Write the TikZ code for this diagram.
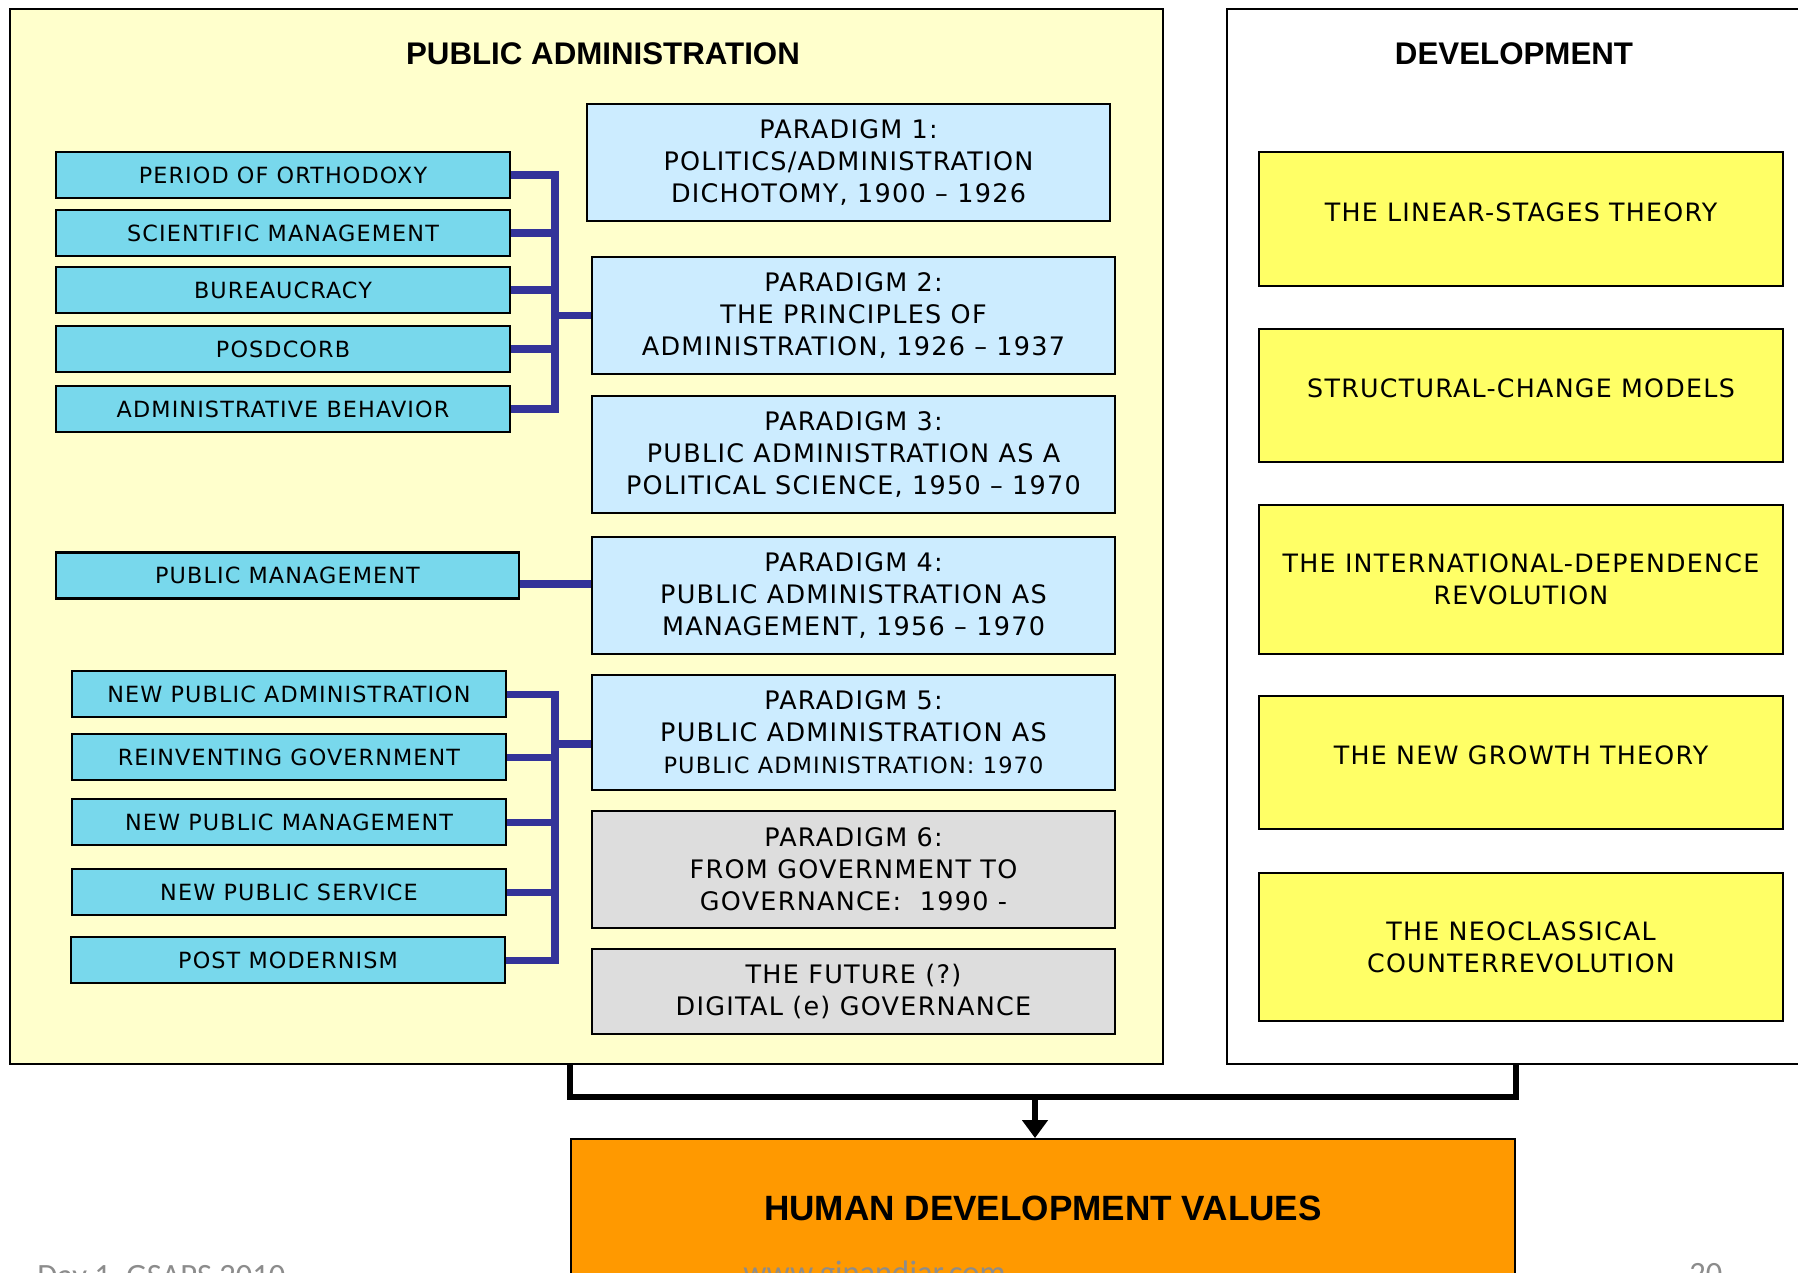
\documentclass[tikz,border=0pt]{standalone}
\usepackage{fontspec}
\usepackage{tikz}
\usetikzlibrary{arrows.meta}
\setmainfont{DejaVu Sans}
\newfontfamily\boxfont[LetterSpace=5]{DejaVu Sans}
\newfontfamily\headfont{Liberation Sans}
\newfontfamily\footfont{Carlito}
\definecolor{paback}{RGB}{255,255,204}
\definecolor{cyanbox}{RGB}{120,216,236}
\definecolor{paleblue}{RGB}{204,236,255}
\definecolor{greybox}{RGB}{221,221,221}
\definecolor{yellowbox}{RGB}{255,255,102}
\definecolor{orangebox}{RGB}{255,153,0}
\definecolor{linkblue}{RGB}{51,51,153}
\definecolor{footgrey}{RGB}{140,140,140}

\begin{document}
\begin{tikzpicture}[x=0.02cm, y=-0.02cm,
    every node/.style={inner sep=0pt},
    panel/.style={draw, line width=1.1pt, minimum height=21.1cm},
    sidebox/.style={draw, line width=1.5pt, fill=cyanbox, minimum height=0.92cm,
        font=\boxfont\fontsize{12.7}{15}\selectfont},
    paradigm/.style={draw, line width=1.5pt, fill=paleblue, align=center,
        minimum width=10.46cm, minimum height=2.34cm,
        font=\boxfont\fontsize{14.5}{18.2}\selectfont},
    later/.style={paradigm, fill=greybox},
    theory/.style={draw, line width=1.5pt, fill=yellowbox, align=center,
        minimum width=10.48cm, font=\boxfont\fontsize{14.4}{18.2}\selectfont},
    oneline/.style={text depth=0.28cm},
    heading/.style={font=\headfont\bfseries\fontsize{17.8}{20}\selectfont},
    bluelink/.style={draw=linkblue, line width=4pt},
    blacklink/.style={draw=black, line width=3.6pt},
    footer/.style={font=\footfont\fontsize{18.5}{20}\selectfont, text=footgrey, anchor=base west}]

    \useasboundingbox (0,0) rectangle (1798,1272);

    % Panels
    \node[panel, fill=paback, minimum width=23.06cm] (pa) at (586.5,536.5) {};
    \node[panel, fill=white, minimum width=11.66cm] (dev) at (1518.5,536.5) {};
    \node[heading] (patitle) at (603,54) {PUBLIC ADMINISTRATION};
    \node[heading] (devtitle) at (1514,54) {DEVELOPMENT};

    % Left column
    \node[sidebox, minimum width=9.08cm] (orth) at (283,175) {PERIOD OF ORTHODOXY};
    \node[sidebox, minimum width=9.08cm] (sci) at (283,233) {SCIENTIFIC MANAGEMENT};
    \node[sidebox, minimum width=9.08cm] (bur) at (283,290) {BUREAUCRACY};
    \node[sidebox, minimum width=9.08cm] (posd) at (283,349) {POSDCORB};
    \node[sidebox, minimum width=9.08cm] (behav) at (283,409) {ADMINISTRATIVE BEHAVIOR};
    \node[sidebox, minimum width=9.26cm] (pubman) at (287.5,575.5) {PUBLIC MANAGEMENT};
    \node[sidebox, minimum width=8.68cm] (npa) at (289,694) {NEW PUBLIC ADMINISTRATION};
    \node[sidebox, minimum width=8.68cm] (reinv) at (289,757) {REINVENTING GOVERNMENT};
    \node[sidebox, minimum width=8.68cm] (npm) at (289,822) {NEW PUBLIC MANAGEMENT};
    \node[sidebox, minimum width=8.68cm] (nps) at (289,892) {NEW PUBLIC SERVICE};
    \node[sidebox, minimum width=8.68cm] (postm) at (288,960) {POST MODERNISM};

    % Paradigms
    \node[paradigm] (p1) at (848.5,162.5) {PARADIGM 1:\\POLITICS/ADMINISTRATION\\DICHOTOMY, 1900 – 1926};
    \node[paradigm] (p2) at (853.5,315.5) {PARADIGM 2:\\THE PRINCIPLES OF\\ADMINISTRATION, 1926 – 1937};
    \node[paradigm] (p3) at (853.5,454.5) {PARADIGM 3:\\PUBLIC ADMINISTRATION AS A\\POLITICAL SCIENCE, 1950 – 1970};
    \node[paradigm] (p4) at (853.5,595.5) {PARADIGM 4:\\PUBLIC ADMINISTRATION AS\\MANAGEMENT, 1956 – 1970};
    \node[paradigm, minimum height=2.3cm] (p5) at (853.5,732.5) {PARADIGM 5:\\PUBLIC ADMINISTRATION AS\\{\fontsize{12.8}{18.2}\selectfont PUBLIC ADMINISTRATION: 1970}};
    \node[later] (p6) at (853.5,869.5) {PARADIGM 6:\\FROM GOVERNMENT TO\\GOVERNANCE:~~1990 -};
    \node[later, minimum height=1.7cm] (future) at (853.5,991.5) {THE FUTURE (?)\\DIGITAL (e) GOVERNANCE};

    % Development theories
    \node[theory, oneline, minimum height=2.68cm] (d1) at (1521,219) {THE LINEAR-STAGES THEORY};
    \node[theory, oneline, minimum height=2.66cm] (d2) at (1521,395.5) {STRUCTURAL-CHANGE MODELS};
    \node[theory, minimum height=2.98cm] (d3) at (1521,579.5) {THE INTERNATIONAL-DEPENDENCE\\REVOLUTION};
    \node[theory, oneline, minimum height=2.66cm] (d4) at (1521,762.5) {THE NEW GROWTH THEORY};
    \node[theory, minimum height=2.96cm] (d5) at (1521,947) {THE NEOCLASSICAL\\COUNTERREVOLUTION};

    % Result
    \node[draw, line width=1.1pt, fill=orangebox, minimum width=18.88cm, minimum height=2.76cm,
        font=\headfont\bfseries\fontsize{20}{22}\selectfont] (hdv) at (1043,1208) {HUMAN DEVELOPMENT VALUES};

    % Brackets
    \coordinate (barA) at (555,0);
    \foreach \n in {orth,sci,bur,posd,behav}
        \draw[bluelink] (\n.east) -- (\n.east -| barA);
    \draw[bluelink, line cap=rect] (barA |- orth.east) -- (barA |- behav.east);
    \draw[bluelink] (barA |- p2.west) -- (p2.west);

    \draw[bluelink] ([yshift=-0.17cm]pubman.east) -- ([yshift=-0.17cm]pubman.east -| p4.west);

    \coordinate (barB) at (555,0);
    \foreach \n in {npa,reinv,npm,nps,postm}
        \draw[bluelink] (\n.east) -- (\n.east -| barB);
    \draw[bluelink, line cap=rect] (barB |- npa.east) -- (barB |- postm.east);
    \draw[bluelink] ([yshift=-0.23cm]barB |- p5.west) -- ([yshift=-0.23cm]p5.west);

    % Merge into result
    \coordinate (merge) at (1035,1097);
    \draw[blacklink] (pa.south -| hdv.west) |- (merge) -| (dev.south -| hdv.east);
    \draw[blacklink, -{Triangle[length=0.36cm, width=0.5cm]}] (merge) -- (merge |- hdv.north);

    % Footer
    \node[footer] (day) at (37,1286) {Day 1, GSAPS 2010};
    \node[footer] (web) at (743,1283) {www.ginandjar.com};
    \node[footer] (page) at (1689,1284) {20};
\end{tikzpicture}
\end{document}
